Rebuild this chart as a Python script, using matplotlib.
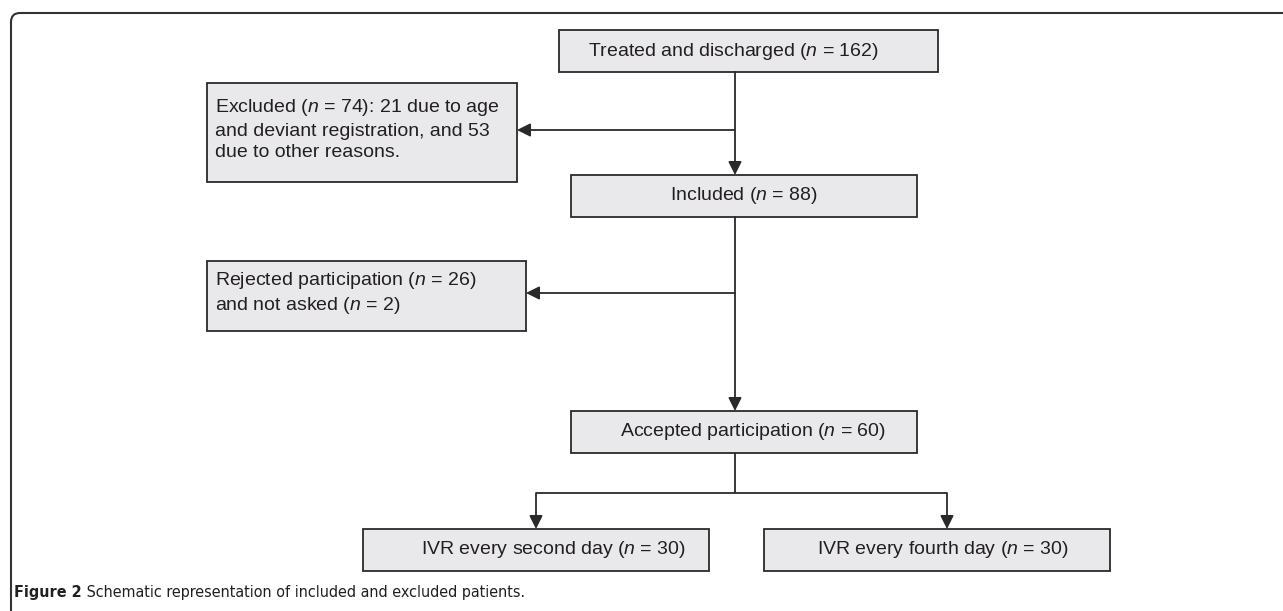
import matplotlib
matplotlib.use("Agg")
import matplotlib.pyplot as plt
from matplotlib.patches import Rectangle, FancyBboxPatch
from matplotlib import font_manager

plt.rcParams['font.family'] = ['Liberation Sans', 'DejaVu Sans']
plt.rcParams['mathtext.fontset'] = 'custom'
plt.rcParams['mathtext.it'] = 'Liberation Sans:italic'
plt.rcParams['mathtext.rm'] = 'Liberation Sans'

# ---- content ----
box_labels = [
    "Treated and discharged ($n$ = 162)",
    "Excluded ($n$ = 74): 21 due to age\nand deviant registration, and 53\ndue to other reasons.",
    "Included ($n$ = 88)",
    "Rejected participation ($n$ = 26)\nand not asked ($n$ = 2)",
    "Accepted participation ($n$ = 60)",
    "IVR every second day ($n$ = 30)",
    "IVR every fourth day ($n$ = 30)",
]
caption_bold = "Figure 2"
caption_text = " Schematic representation of included and excluded patients."

# ---- layout (pixels, y downward) ----
W, H = 1283, 611
boxes = [  # x0, y0, x1, y1
    (559, 30, 938, 72),
    (207, 83, 517, 182),
    (571, 175, 917, 217),
    (207, 261, 526, 331),
    (571, 411, 917, 453),
    (363, 529, 709, 571),
    (764, 529, 1110, 571),
]
text_pos = [  # x, y, ha
    (733, 51, 'center'),
    (215, 129, 'left'),
    (744, 196, 'center'),
    (215, 293, 'left'),
    (753, 432, 'center'),
    (553, 550, 'center'),
    (943, 550, 'center'),
]
arrows = [  # (x0,y0) -> (x1,y1)
    ((735, 72), (735, 175)),
    ((735, 130), (517, 130)),
    ((735, 217), (735, 411)),
    ((735, 293), (526, 293)),
    ((536, 493), (536, 529)),
    ((947, 493), (947, 529)),
]
lines = [
    ((735, 453), (735, 493)),
    ((536, 493), (947, 493)),
]

# ---- pick a condensed face for the caption ----
names = {f.name for f in font_manager.fontManager.ttflist}
if 'Liberation Sans Narrow' in names:
    cap_reg = font_manager.FontProperties(family='Liberation Sans Narrow', size=13)
    cap_bold = font_manager.FontProperties(family='Liberation Sans Narrow', weight='bold', size=13)
else:
    cond = [f for f in font_manager.fontManager.ttflist
            if f.name == 'DejaVu Sans' and 'ondensed' in f.fname]
    reg = [f for f in cond if 'Bold' not in f.fname and 'Oblique' not in f.fname]
    bld = [f for f in cond if 'Bold' in f.fname and 'Oblique' not in f.fname]
    if reg and bld:
        cap_reg = font_manager.FontProperties(fname=reg[0].fname, size=11.5)
        cap_bold = font_manager.FontProperties(fname=bld[0].fname, size=11.5)
    else:
        cap_reg = font_manager.FontProperties(family='Liberation Sans', size=11.2)
        cap_bold = font_manager.FontProperties(family='Liberation Sans', weight='bold', size=11.2)

fig = plt.figure(figsize=(W / 100, H / 100), dpi=100)
ax = fig.add_axes([0, 0, 1, 1])
ax.set_xlim(0, W)
ax.set_ylim(H, 0)
ax.axis('off')

edge = '#2a2a2a'
fill = '#e9e9eb'
ink = '#231f20'

# outer frame with rounded top-left corner
frame = FancyBboxPatch((11, 13), W + 40, H + 40,
                       boxstyle="round,pad=0,rounding_size=9",
                       fc='none', ec='#333333', lw=1.5)
ax.add_patch(frame)

for (x0, y0, x1, y1) in boxes:
    ax.add_patch(Rectangle((x0, y0), x1 - x0, y1 - y0, fc=fill, ec=edge, lw=1.3))

for label, (x, y, ha) in zip(box_labels, text_pos):
    ax.text(x, y, label, ha=ha, va='center', fontsize=14, color=ink,
            linespacing=1.32)

for (p0, p1) in lines:
    ax.plot([p0[0], p1[0]], [p0[1], p1[1]], color=edge, lw=1.3,
            solid_capstyle='butt')

for (p0, p1) in arrows:
    ax.annotate('', xy=p1, xytext=p0,
                arrowprops=dict(arrowstyle='-|>', color=edge, lw=1.3,
                                mutation_scale=20, shrinkA=0, shrinkB=0))

# caption
t1 = ax.text(14, 593, caption_bold, ha='left', va='center', color=ink,
             fontproperties=cap_bold)
fig.canvas.draw()
bb = t1.get_window_extent()
x_end = ax.transData.inverted().transform((bb.x1, bb.y0))[0]
ax.text(x_end, 593, caption_text, ha='left', va='center', color=ink,
        fontproperties=cap_reg)

fig.savefig('out.png', dpi=100)
